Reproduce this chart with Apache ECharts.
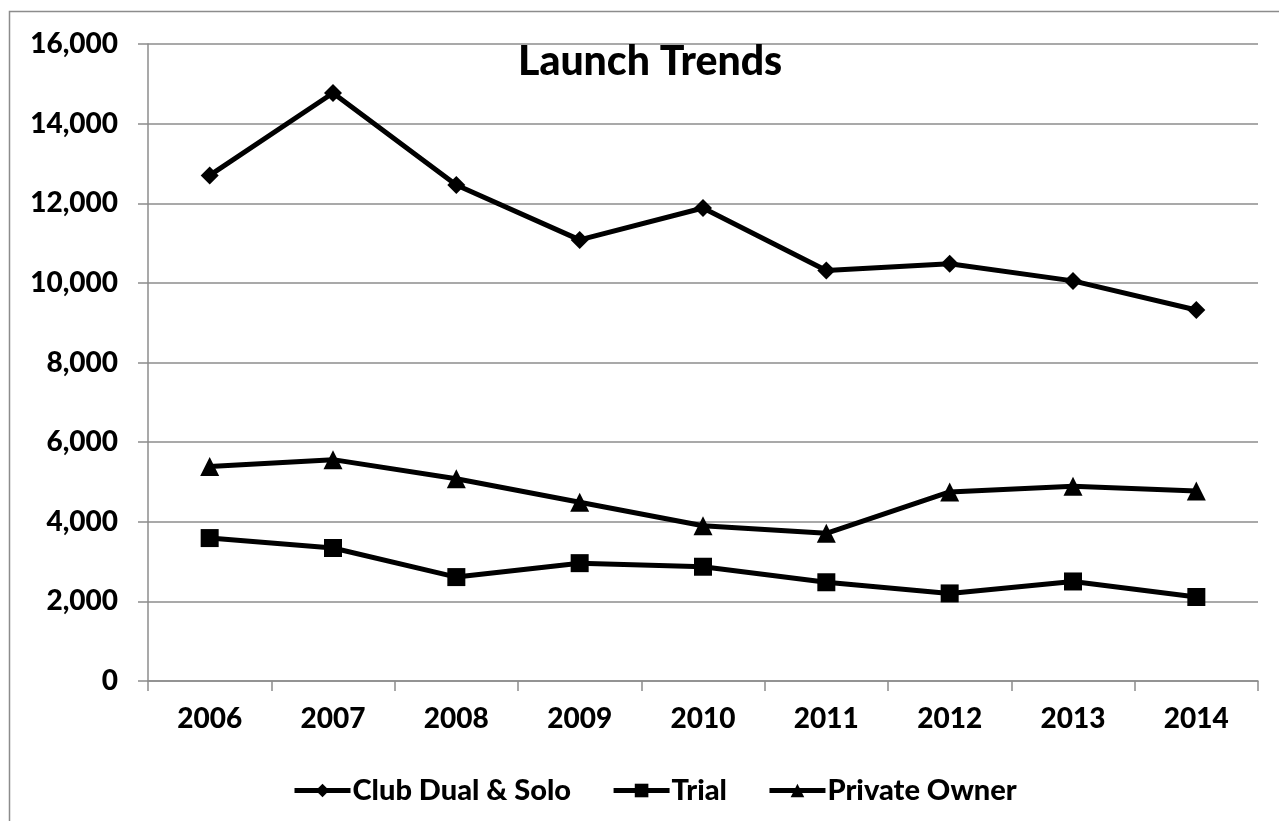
<!DOCTYPE html>
<html>
<head>
<meta charset="utf-8">
<title>Launch Trends</title>
<script src="https://cdn.jsdelivr.net/npm/echarts@6/dist/echarts.min.js"></script>
<style>
  html, body { margin: 0; padding: 0; background: #ffffff; }
  #chart { width: 1279px; height: 821px; }
</style>
</head>
<body>
<div id="chart"></div>
<script>
// Yearly launch counts by category
const years = ['2006', '2007', '2008', '2009', '2010', '2011', '2012', '2013', '2014'];
const clubDualSolo = [12700, 14770, 12460, 11080, 11880, 10310, 10480, 10050, 9320];
const trial = [3590, 3340, 2610, 2960, 2870, 2480, 2200, 2500, 2110];
const privateOwner = [5390, 5560, 5080, 4490, 3900, 3710, 4750, 4890, 4770];

const FONT = 'Lato';
const WEIGHT = 900;
const GRID_GREY = '#8c8c8c';

const chart = echarts.init(document.getElementById('chart'), null, { renderer: 'canvas' });

function lineSeries(name, data, symbol, size) {
  return {
    name: name,
    type: 'line',
    data: data,
    symbol: symbol,
    symbolSize: size,
    showAllSymbol: true,
    lineStyle: { color: '#000', width: 5 },
    itemStyle: { color: '#000', borderWidth: 0 },
    emphasis: { disabled: true },
    animation: false,
    z: 3
  };
}

chart.setOption({
  backgroundColor: '#ffffff',
  animation: false,
  title: {
    text: 'Launch Trends',
    left: 513,
    top: 36,
    textStyle: { fontFamily: FONT, fontWeight: WEIGHT, fontSize: 41, color: '#000' }
  },
  graphic: [{
    type: 'rect',
    shape: { x: 9.5, y: 11.5, width: 1300, height: 900 },
    style: { fill: 'none', stroke: GRID_GREY, lineWidth: 1.5 },
    silent: true
  }],
  legend: {
    left: 287,
    top: 771,
    itemWidth: 56,
    itemHeight: 17,
    itemGap: 40,
    lineStyle: { color: '#000', width: 5 },
    itemStyle: { color: '#000', borderWidth: 0 },
    textStyle: { fontFamily: FONT, fontWeight: WEIGHT, fontSize: 29, color: '#000', padding: [0, 0, 0, -3] },
    data: ['Club Dual & Solo', 'Trial', 'Private Owner'],
    selectedMode: false
  },
  grid: { left: 148, right: 21, top: 44, bottom: 140, containLabel: false },
  xAxis: {
    type: 'category',
    data: years,
    boundaryGap: true,
    axisLine: { lineStyle: { color: GRID_GREY, width: 1.5 } },
    axisTick: { show: true, inside: false, length: 10, lineStyle: { color: GRID_GREY, width: 1.5 } },
    axisLabel: { fontFamily: FONT, fontWeight: WEIGHT, fontSize: 28, color: '#000', margin: 24 }
  },
  yAxis: {
    type: 'value',
    min: 0,
    max: 16000,
    interval: 2000,
    axisLine: { show: true, lineStyle: { color: GRID_GREY, width: 1.5 } },
    axisTick: { show: true, inside: false, length: 10, lineStyle: { color: GRID_GREY, width: 1.5 } },
    splitLine: { show: true, lineStyle: { color: GRID_GREY, width: 1.5 } },
    axisLabel: {
      fontFamily: FONT, fontWeight: WEIGHT, fontSize: 28, color: '#000', margin: 30,
      formatter: function (v) { return v.toLocaleString('en-US'); }
    }
  },
  series: [
    lineSeries('Club Dual & Solo', clubDualSolo, 'diamond', 18),
    lineSeries('Trial', trial, 'rect', 18),
    lineSeries('Private Owner', privateOwner, 'triangle', 19)
  ]
});
</script>
</body>
</html>
